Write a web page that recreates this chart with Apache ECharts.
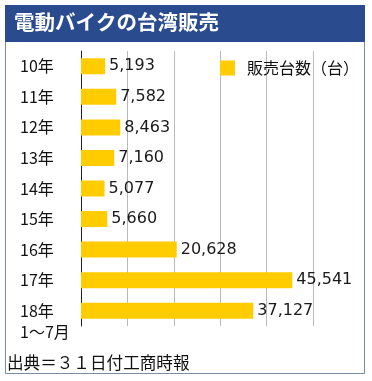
<!DOCTYPE html>
<html>
<head>
<meta charset="utf-8">
<script src="https://cdn.jsdelivr.net/npm/echarts@6/dist/echarts.min.js"></script>
<style>html,body{margin:0;padding:0;background:#fff;}#c{width:372px;height:381px;}</style>
</head>
<body>
<div id="c"></div>
<script>
var categories = ['10年', '11年', '12年', '13年', '14年', '15年', '16年', '17年', '18年\n1〜7月'];
var sales = [5193, 7582, 8463, 7160, 5077, 5660, 20628, 45541, 37127];
var seriesName = '販売台数（台）';
var titleText = '電動バイクの台湾販売';
var sourceText = '出典＝３１日付工商時報';

var FONT = '"Noto Sans CJK JP", "Noto Sans", sans-serif';
var chart = echarts.init(document.getElementById('c'), null, {renderer: 'canvas'});
chart.setOption({
  animation: false,
  textStyle: {fontFamily: FONT},
  graphic: [
    {type: 'rect', shape: {x: 5.5, y: 5.5, width: 359, height: 368}, style: {fill: '#fff', stroke: '#7d8ba3', lineWidth: 1}, z: -10},
    {type: 'rect', shape: {x: 5, y: 5, width: 360, height: 37}, style: {fill: '#2a4b8e'}, z: -5},
    {type: 'text', left: 14, top: 12, style: {text: titleText, fill: '#fff', font: 'bold 20.5px ' + FONT}},
    {type: 'text', left: 7, top: 354, style: {text: sourceText, fill: '#111', font: '16.6px ' + FONT}}
  ],
  legend: {
    data: [seriesName],
    right: 8,
    top: 55,
    itemWidth: 15,
    itemHeight: 15,
    icon: 'rect',
    textStyle: {fontSize: 16, color: '#111', fontFamily: FONT, padding: [0, 0, 0, 7]}
  },
  grid: {left: 81, top: 51, width: 232, height: 275, containLabel: false, outerBoundsMode: 'none'},
  xAxis: {
    type: 'value', min: 0, max: 50000, interval: 10000,
    axisLine: {show: false}, axisTick: {show: false}, axisLabel: {show: false},
    splitLine: {show: true, lineStyle: {color: '#b9b9b9', width: 1}}
  },
  yAxis: {
    type: 'category', inverse: true, data: categories,
    axisLine: {show: true, lineStyle: {color: '#222', width: 1}},
    axisTick: {show: false},
    axisLabel: {
      interval: 0, hideOverlap: false,
      align: 'left', margin: 61, fontSize: 16, color: '#111', fontFamily: FONT,
      formatter: function (v) {
        if (v.indexOf('\n') >= 0) {
          return '{t| }\n' + v.split('\n').map(function (s) { return '{t|' + s + '}'; }).join('\n');
        }
        return v;
      },
      rich: {t: {fontSize: 16, lineHeight: 21, color: '#111', fontFamily: FONT, align: 'left'}}
    }
  },
  series: [{
    name: seriesName, type: 'bar', data: sales, barWidth: 16,
    itemStyle: {color: '#ffcc00'},
    label: {show: true, position: 'right', distance: 4, fontSize: 16, color: '#1a1a1a', fontFamily: '"DejaVu Sans", sans-serif',
      formatter: function (p) { return p.value.toLocaleString('en-US'); }}
  }]
});
</script>
</body>
</html>
